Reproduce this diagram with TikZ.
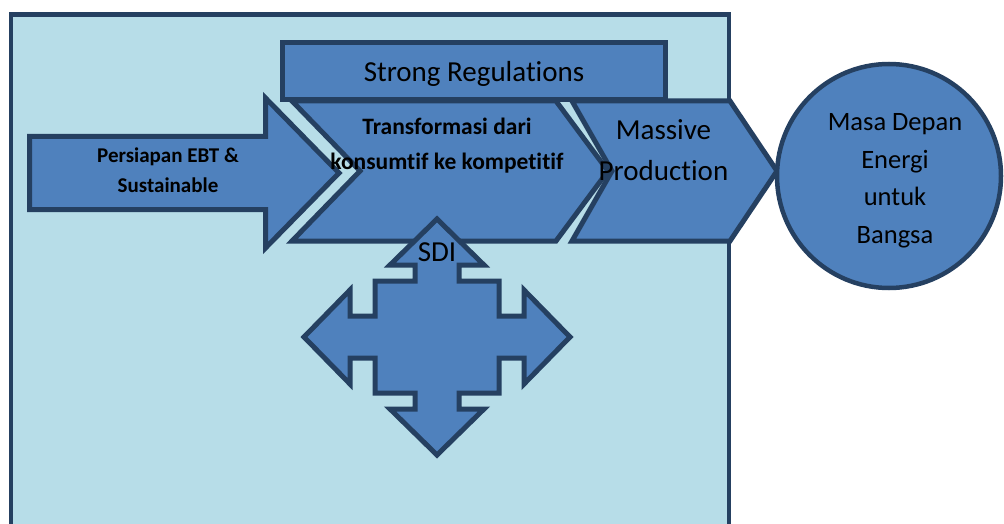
\documentclass[tikz,border=0pt]{standalone}
\usepackage{fontspec}
\setmainfont{Carlito}[Ligatures={NoCommon}]
\definecolor{bgblue}{HTML}{B7DDE8}
\definecolor{fillblue}{HTML}{4F81BD}
\definecolor{edgeblue}{HTML}{254061}
\begin{document}
\begin{tikzpicture}[x=1pt,y=-1pt,
  blockshape/.style={fill=fillblue,draw=edgeblue,line width=5pt,line join=miter},
  lbl/.style={anchor=base,inner sep=0pt,text=black},
  big/.style={lbl,font=\fontsize{29}{29}\selectfont},
  mid/.style={lbl,font=\fontsize{26.5}{26.5}\selectfont},
  bsmall/.style={lbl,font=\bfseries\fontsize{21}{21}\selectfont},
  bmid/.style={lbl,font=\bfseries\fontsize{23.5}{23.5}\selectfont}]
\useasboundingbox (0,0) rectangle (1004,524);
\begin{scope}
\clip (0,0) rectangle (1004,524);
\fill[white] (0,0) rectangle (1004,524);
% outer frame
\draw[fill=bgblue,draw=edgeblue,line width=4.5pt] (11,14.5) rectangle (729,560);
% arrow
\draw[blockshape] (29.5,136.5) -- (265.5,136.5) -- (265.5,98) -- (339,173) -- (265.5,248) -- (265.5,209.5) -- (29.5,209.5) -- cycle;
% massive production chevron
\draw[blockshape] (572,101) -- (730,101) -- (777,171) -- (730,241) -- (572,241) -- (612,171) -- cycle;
% transformasi chevron
\draw[blockshape] (292,101) -- (556,101) -- (608,171) -- (556,241) -- (292,241) -- (360,171) -- cycle;
% strong regulations
\draw[blockshape] (282.5,42.5) rectangle (665.5,99.5);
% SDI cross
\begin{scope}[shift={(437,337)}]
\draw[blockshape] (0,-118) -- (47,-72) -- (22,-72) -- (22,-56) -- (62,-56) -- (62,-21) -- (87,-21) -- (87,-47) -- (133,0) -- (87,47) -- (87,21) -- (62,21) -- (62,56) -- (22,56) -- (22,72) -- (47,72) -- (0,118) -- (-47,72) -- (-22,72) -- (-22,56) -- (-62,56) -- (-62,21) -- (-87,21) -- (-87,47) -- (-133,0) -- (-87,-47) -- (-87,-21) -- (-62,-21) -- (-62,-56) -- (-22,-56) -- (-22,-72) -- (-47,-72) -- cycle;
\end{scope}
% circle
\draw[blockshape,line width=4.5pt] (889,176) circle (112);
\end{scope}
% texts
\node[big] (reg) at (474,82) {Strong Regulations};
\node[bsmall] (ebtA) at (168,163) {Persiapan EBT \&};
\node[bsmall] (ebtB) at (168,193) {Sustainable};
\node[bmid] (trA) at (447,135) {Transformasi dari};
\node[bmid] (trB) at (447,170) {konsumtif ke kompetitif};
\node[big] (mpA) at (663.5,140) {Massive};
\node[big] (mpB) at (663.5,180) {Production};
\node[mid] (mdA) at (895,131) {Masa Depan};
\node[mid] (mdB) at (895,168) {Energi};
\node[mid] (mdC) at (895,205) {untuk};
\node[mid] (mdD) at (895,243) {Bangsa};
\node[big] (sdi) at (437,261) {SDI};
\end{tikzpicture}
\end{document}
